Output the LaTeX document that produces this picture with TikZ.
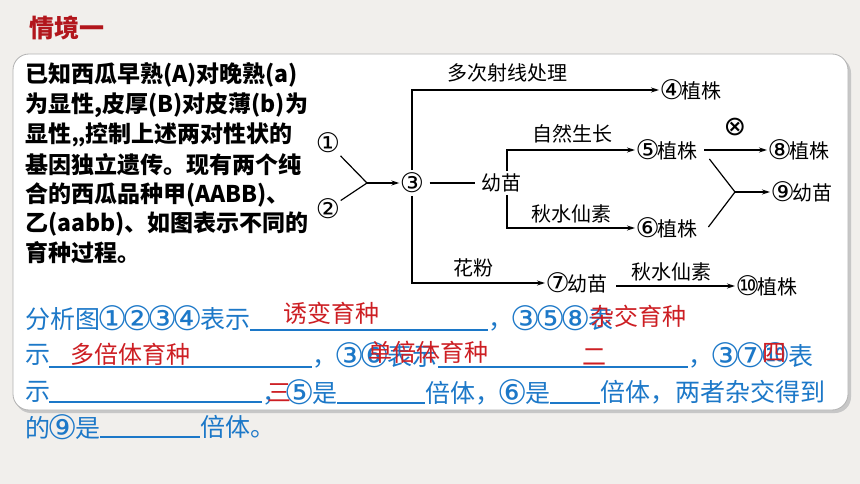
\documentclass[tikz,border=0pt]{standalone}
\usepackage{fontspec}
\setmainfont{Noto Sans CJK SC}
\newfontfamily\dejavu{DejaVu Sans}
\usetikzlibrary{arrows.meta,calc}
\definecolor{bgc}{RGB}{241,239,236}
\definecolor{titred}{RGB}{178,22,28}
\definecolor{qblue}{RGB}{28,120,200}
\definecolor{ansred}{RGB}{205,30,35}
\newcommand\cn[1]{\makebox[1em]{\raisebox{-0.08em}{\dejavu\scalebox{1.35}{#1}}}}
\tikzset{
  diag/.style={font=\fontsize{20}{24}\selectfont, inner sep=2.5pt},
  para/.style={font=\bfseries\fontsize{23}{28}\selectfont, anchor=west, inner sep=0pt},
  qtext/.style={font=\fontsize{25}{30}\selectfont, text=qblue, anchor=west, inner sep=0pt},
  ans/.style={font=\fontsize{24}{28}\selectfont, text=ansred, anchor=west, inner sep=0pt},
  arr/.style={-{Stealth[length=8pt,width=5pt]}, line width=1.2pt},
  ln/.style={line width=1.2pt},
  uline/.style={draw=qblue, line width=1.4pt},
}
\begin{document}
\begin{tikzpicture}[x=1pt,y=-1pt]
\useasboundingbox (0,0) rectangle (860,484);
\fill[bgc] (0,0) rectangle (860,484);
% card
\fill[black!22, rounded corners=16] (15,57) rectangle (851,413);
\filldraw[fill=white, draw=black!30, line width=0.8pt, rounded corners=16] (13,54) rectangle (848,410);
% title
\node[font=\bfseries\fontsize{25}{30}\selectfont, text=titred, anchor=west, inner sep=0pt] (title) at (29,28) {情境一};
% paragraph
\node[para] (p1) at (25,75) {已知西瓜早熟(A)对晚熟(a)};
\node[para] (p2) at (25,105) {为显性,皮厚(B)对皮薄(b)为};
\node[para] (p3) at (25,135) {显性,,控制上述两对性状的};
\node[para] (p4) at (25,165) {基因独立遗传。现有两个纯};
\node[para] (p5) at (25,195) {合的西瓜品种甲(AABB)、};
\node[para] (p6) at (25,224) {乙(aabb)、如图表示不同的};
\node[para] (p7) at (25,253) {育种过程。};
% diagram nodes
\node[diag] (n1) at (328,143) {\cn{①}};
\node[diag] (n2) at (328,209) {\cn{②}};
\coordinate (j1) at (367,183);
\node[diag] (n3) at (412,183) {\cn{③}};
\node[diag, anchor=west] (n4) at (659,90) {\cn{④}植株};
\node[diag] (seed) at (501,183) {幼苗};
\node[diag, anchor=west] (n5) at (635,150) {\cn{⑤}植株};
\node[diag, anchor=west] (n6) at (635,228) {\cn{⑥}植株};
\node[diag, anchor=west] (n7) at (545,283) {\cn{⑦}幼苗};
\node[diag, anchor=west] (n8) at (767,150) {\cn{⑧}植株};
\node[diag, anchor=west] (n9) at (770,192) {\cn{⑨}幼苗};
\node[diag, anchor=west] (n10) at (735,286) {\cn{⑩}植株};
\coordinate (j2) at (735,192);
\node[font=\dejavu\fontsize{27}{29}\selectfont, inner sep=0pt] (cross) at (735,127) {⊗};
% edge labels
\node[diag] (l1) at (507,73) {多次射线处理};
\node[diag] (l2) at (572,134) {自然生长};
\node[diag] (l3) at (571,214) {秋水仙素};
\node[diag] (l4) at (473,268) {花粉};
\node[diag] (l5) at (671,272) {秋水仙素};
% connectors
\draw[ln] (n1) -- (j1);
\draw[ln] (n2) -- (j1);
\draw[arr] (j1) -- (n3);
\draw[arr] (n3.north) |- (n4.west);
\draw[arr] (n3.south) |- (n7.west);
\draw[ln, shorten <=5pt, shorten >=3pt] (n3.east) -- (seed.west);
\draw[arr] ([xshift=6pt]seed.north) |- (n5.west);
\draw[arr] ([xshift=6pt]seed.south) |- (n6.west);
\draw[arr, shorten <=4pt] (n5.east) -- (n8.west);
\draw[ln] ($(n5.east)+(9,9)$) -- (j2);
\draw[ln] ($(n6.east)+(8,-1)$) -- (j2);
\draw[arr] (j2) -- (n9.west);
\draw[arr, shorten <=6pt] (n7.east |- n10.west) -- (n10.west);
% question text line 1
\node[qtext] (q1) at (25,318) {分析图\cn{①}\cn{②}\cn{③}\cn{④}表示};
\draw[uline] (250,330) -- (488,330);
\node[qtext] (q2) at (488,318) {，\cn{③}\cn{⑤}\cn{⑧}表};
\node[ans] (a1) at (283,313) {诱变育种};
\node[ans] (a2) at (590,316) {杂交育种};
% line 2
\node[qtext] (q3) at (25,355) {示};
\draw[uline] (49,367) -- (312,367);
\node[qtext] (q4) at (312,355) {，\cn{③}\cn{⑥}表示};
\draw[uline] (438,367) -- (688,367);
\node[qtext] (q5) at (688,355) {，\cn{③}\cn{⑦}\cn{⑩}表};
\node[ans] (a3) at (70,354) {多倍体育种};
\node[ans] (a4) at (368,352) {单倍体育种};
\node[ans] (a5) at (582,357) {二};
\node[ans] (a6) at (762,353) {四};
% line 3
\node[qtext] (q6) at (25,392) {示};
\draw[uline] (49,402) -- (262,402);
\node[qtext] (q7) at (262,392) {，\cn{⑤}是};
\draw[uline] (337,403) -- (425,403);
\node[qtext] (q8) at (425,392) {倍体，\cn{⑥}是};
\draw[uline] (550,403) -- (600,403);
\node[qtext] (q9) at (600,392) {倍体，两者杂交得到};
\node[ans] (a7) at (267,393) {三};
% line 4
\node[qtext] (q10) at (25,427) {的\cn{⑨}是};
\draw[uline] (100,437) -- (200,437);
\node[qtext] (q11) at (200,427) {倍体。};
\end{tikzpicture}
\end{document}
